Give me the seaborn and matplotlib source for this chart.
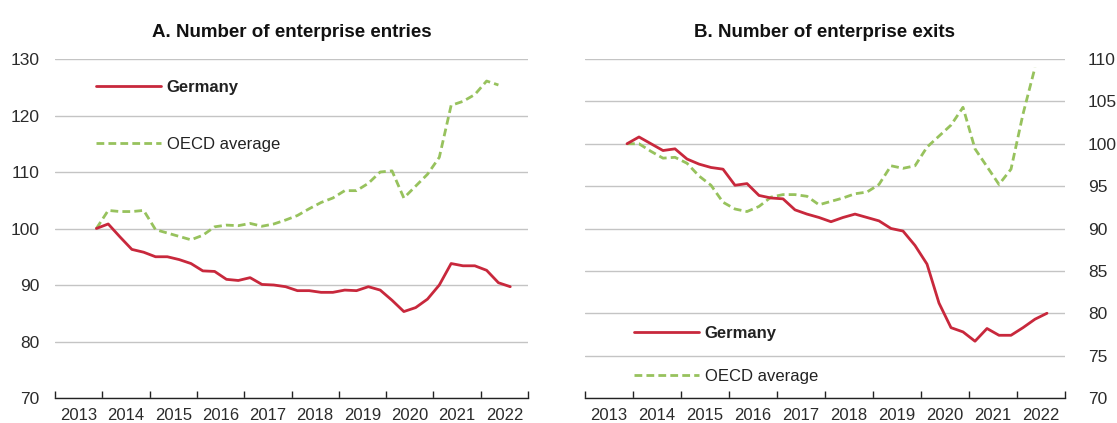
import matplotlib
matplotlib.use("Agg")
import matplotlib.pyplot as plt
import pandas as pd
import seaborn as sns
from matplotlib.ticker import FixedLocator, NullFormatter, FixedFormatter

# ---------------- data (index, first quarter = 2013Q4) ----------------
first_quarter = "2013Q4"

entries_germany = [100.0, 100.8, 98.5, 96.3, 95.8, 95.0, 95.0, 94.5, 93.8, 92.5,
                   92.4, 91.0, 90.8, 91.3, 90.1, 90.0, 89.7, 89.0, 89.0, 88.7,
                   88.7, 89.1, 89.0, 89.7, 89.1, 87.3, 85.3, 86.0, 87.5, 90.0,
                   93.8, 93.4, 93.4, 92.6, 90.4, 89.7]
entries_oecd = [100.0, 103.2, 103.0, 103.0, 103.2, 99.8, 99.2, 98.6, 98.0, 98.8,
                100.3, 100.6, 100.5, 100.9, 100.4, 100.8, 101.5, 102.3, 103.5, 104.6,
                105.4, 106.7, 106.7, 108.0, 110.0, 110.2, 105.4, 107.5, 109.6, 112.6,
                121.8, 122.5, 123.7, 126.1, 125.4]

exits_germany = [100.0, 100.8, 100.0, 99.2, 99.4, 98.2, 97.6, 97.2, 97.0, 95.1,
                 95.3, 93.9, 93.6, 93.5, 92.2, 91.7, 91.3, 90.8, 91.3, 91.7,
                 91.3, 90.9, 90.0, 89.7, 88.0, 85.8, 81.2, 78.3, 77.8, 76.7,
                 78.2, 77.4, 77.4, 78.3, 79.3, 80.0]
exits_oecd = [100.0, 100.0, 99.1, 98.3, 98.4, 97.7, 96.2, 95.1, 93.1, 92.3,
              92.0, 92.6, 93.7, 94.0, 94.0, 93.8, 92.8, 93.2, 93.6, 94.1,
              94.3, 95.2, 97.4, 97.1, 97.4, 99.6, 100.9, 102.2, 104.3, 99.4,
              97.3, 95.2, 97.0, 103.5, 109.0]

series_names = ["Germany", "OECD average"]
year_labels = ["2013", "2014", "2015", "2016", "2017", "2018", "2019", "2020", "2021", "2022"]
titles = ["A. Number of enterprise entries", "B. Number of enterprise exits"]
entries_yticks = [70, 80, 90, 100, 110, 120, 130]
exits_yticks = [70, 75, 80, 85, 90, 95, 100, 105, 110]

COL_DE = "#C8283C"
COL_OECD = "#97C25D"


def quarter_x(n):
    periods = pd.period_range(first_quarter, periods=n, freq="Q")
    return [p.year + (p.quarter - 1) / 4 + 0.125 for p in periods]


def long_frame(germany, oecd):
    df_de = pd.DataFrame({"x": quarter_x(len(germany)), "value": germany, "series": series_names[0]})
    df_oe = pd.DataFrame({"x": quarter_x(len(oecd)), "value": oecd, "series": series_names[1]})
    return df_de, df_oe


sns.set_theme(style="white")
plt.rcParams["font.family"] = ["Liberation Sans", "DejaVu Sans"]

W, H = 1117, 423
fig = plt.figure(figsize=(W / 100, H / 100), dpi=100)
axL = fig.add_axes([55 / W, 25 / H, 473 / W, 339 / H])
axR = fig.add_axes([585 / W, 25 / H, 480 / W, 339 / H])


def draw(ax, germany, oecd, yticks, title, side, leg_anchor, leg_spacing):
    df_de, df_oe = long_frame(germany, oecd)
    sns.lineplot(data=df_oe, x="x", y="value", ax=ax, color=COL_OECD, lw=2.0,
                 label=series_names[1], zorder=3)
    ax.lines[-1].set_dashes((2.8, 1.5))
    sns.lineplot(data=df_de, x="x", y="value", ax=ax, color=COL_DE, lw=2.0,
                 label=series_names[0], zorder=4)

    ax.set_xlim(2013, 2023)
    ax.set_ylim(yticks[0], yticks[-1])
    ax.set_yticks(yticks)
    ax.set_yticklabels([str(v) for v in yticks])
    ax.xaxis.set_major_locator(FixedLocator(list(range(2013, 2024))))
    ax.xaxis.set_major_formatter(NullFormatter())
    ax.xaxis.set_minor_locator(FixedLocator([y + 0.5 for y in range(2013, 2023)]))
    ax.xaxis.set_minor_formatter(FixedFormatter(year_labels))
    ax.tick_params(axis="x", which="major", direction="in", length=5, width=1,
                   color="#222222", bottom=True)
    ax.tick_params(axis="x", which="minor", length=0, pad=7.5, labelsize=12,
                   labelcolor="#2b2b2b", bottom=True)
    for s in ["top", "left", "right"]:
        ax.spines[s].set_visible(False)
    ax.spines["bottom"].set_color("#222222")
    ax.spines["bottom"].set_linewidth(1.0)
    ax.grid(axis="y", color="#c4c4c4", lw=1.0)
    ax.grid(axis="x", visible=False)
    ax.set_axisbelow(True)
    ax.set_xlabel("")
    ax.set_ylabel("")
    if side == "right":
        ax.yaxis.tick_right()
        ax.tick_params(axis="y", length=0, pad=16.5, labelsize=12.5, labelcolor="#2b2b2b")
    else:
        ax.tick_params(axis="y", length=0, pad=11, labelsize=12.5, labelcolor="#2b2b2b")
    ax.set_title(title, fontsize=13.5, fontweight="bold", color="#111111", pad=16)

    handles, labels = ax.get_legend_handles_labels()
    order = [labels.index(n) for n in series_names]
    leg = ax.legend([handles[i] for i in order], [labels[i] for i in order],
                    loc="upper left", bbox_to_anchor=leg_anchor, frameon=False,
                    fontsize=12, handlelength=3.9, handletextpad=0.35,
                    labelspacing=leg_spacing, borderpad=0, borderaxespad=0)
    for t in leg.get_texts():
        t.set_color("#222222")
    leg.get_texts()[0].set_fontweight("bold")


draw(axL, entries_germany, entries_oecd, entries_yticks, titles[0], "left",
     (41 / 473, (398 - 80) / 339), 2.5)
draw(axR, exits_germany, exits_oecd, exits_yticks, titles[1], "right",
     (49 / 480, (398 - 326) / 339), 1.65)

fig.savefig("out.png", dpi=100)
